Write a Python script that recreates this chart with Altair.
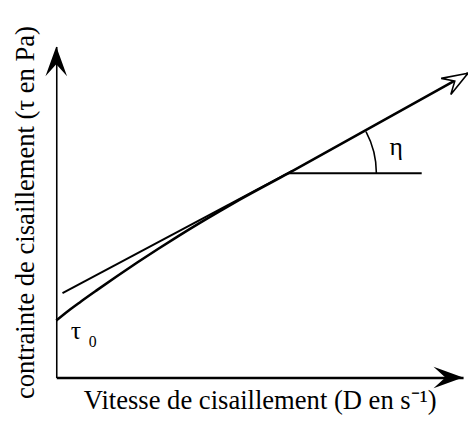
import altair as alt
import pandas as pd

# Axis extents (abstract units)
X_MAX = 10
Y_MAX = 8

# Flow curve (Bingham-like, with yield stress tau0)
curve_x = [0, 0.3, 0.6, 1.0, 1.5, 2.0, 2.5, 3.0, 3.5, 4.0, 4.5, 5.69, 10.12]
curve_y = [1.38, 1.617, 1.834, 2.113, 2.455, 2.786, 3.108, 3.419, 3.721, 4.012, 4.294, 4.93, 7.357]

# Straight asymptote drawn back toward the axis
tangent_x = [0.153, 5.811]
tangent_y = [2.04, 5.0]

# Horizontal reference for the angle eta
horiz_x = [5.69, 8.983]
horiz_y = [4.94, 4.94]

# Labels
label_text = ["\u03b7", "\u03c4", "0"]
label_x = [8.354, 0.484, 0.896]
label_y = [5.571, 1.119, 0.857]
label_size = [26, 26, 16]

X_TITLE = "Vitesse de cisaillement (D en s\u207b\u00b9)"
Y_TITLE = "contrainte de cisaillement (\u03c4 en Pa)"

FONT = "Liberation Serif"
ARROW = "M0,0 L-2,-0.73 L-1.2,0 L-2,0.73 Z"

xs = alt.Scale(domain=[0, X_MAX], nice=False, zero=False)
ys = alt.Scale(domain=[0, Y_MAX], nice=False, zero=False)
x_enc = alt.X("x:Q", scale=xs, title=X_TITLE)
y_enc = alt.Y("y:Q", scale=ys, title=Y_TITLE)

curve_df = pd.DataFrame({"x": curve_x, "y": curve_y, "o": range(len(curve_x))})
tan_df = pd.DataFrame({"x": tangent_x, "y": tangent_y})
hor_df = pd.DataFrame({"x": horiz_x, "y": horiz_y})
lab_df = pd.DataFrame({"x": label_x, "y": label_y, "t": label_text, "s": label_size})
axis_tip_df = pd.DataFrame({"x": [X_MAX, 0], "y": [0, Y_MAX], "a": [0, 270]})
line_tip_df = pd.DataFrame({"x": [curve_x[-1]], "y": [curve_y[-1]]})
arc_df = pd.DataFrame({"x": [horiz_x[0]], "y": [horiz_y[0]]})

curve = alt.Chart(curve_df).mark_line(color="black", strokeWidth=2.6, interpolate="monotone", clip=False).encode(
    x=x_enc, y=y_enc, order="o:Q")
tangent = alt.Chart(tan_df).mark_line(color="black", strokeWidth=2.0).encode(x=x_enc, y=y_enc)
horiz = alt.Chart(hor_df).mark_line(color="black", strokeWidth=2.0).encode(x=x_enc, y=y_enc)

arc = alt.Chart(arc_df).mark_arc(
    radius=90.8, radius2=89.2, theta=1.0818, theta2=1.5708, color="black"
).encode(x=x_enc, y=y_enc)

axis_tips = alt.Chart(axis_tip_df).mark_point(
    shape=ARROW, filled=True, size=900, color="black", opacity=1, clip=False
).encode(x=x_enc, y=y_enc, angle=alt.Angle("a:Q", scale=None))

line_tip = alt.Chart(line_tip_df).mark_point(
    shape=ARROW, filled=True, size=676, fill="white", stroke="black", strokeWidth=1.6,
    opacity=1, fillOpacity=1, angle=329, clip=False
).encode(x=x_enc, y=y_enc)

labels = alt.Chart(lab_df).mark_text(font=FONT, color="black", align="center", baseline="middle").encode(
    x=x_enc, y=y_enc, text="t:N", size=alt.Size("s:Q", scale=None, legend=None))

chart = alt.layer(tangent, horiz, curve, arc, axis_tips, line_tip, labels).properties(
    width=413, height=336,
    autosize=alt.AutoSizeParams(type="none"),
    padding={"left": 49, "top": 36, "right": 5, "bottom": 45},
    background="white",
).configure_view(stroke=None).configure_axis(
    grid=False, ticks=False, labels=False, domainColor="black",
    titleFont=FONT, titleFontSize=27, titleFontWeight="normal", titleColor="black",
).configure_axisX(domainWidth=2.4, titlePadding=10).configure_axisY(domainWidth=1.6, titlePadding=17)

chart.save("out.html", embed_options={"renderer": "svg", "actions": False})
